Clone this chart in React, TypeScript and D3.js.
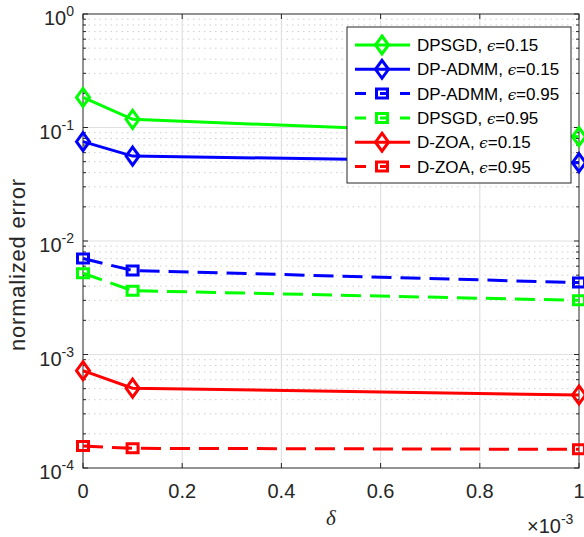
import React from "react";
import * as d3 from "d3";

const deltas = [0, 0.1, 1]; // ×10^-3
const seriesNames = [
  "DPSGD",
  "DP-ADMM",
  "DP-ADMM",
  "DPSGD",
  "D-ZOA",
  "D-ZOA",
];
const seriesEps = ["0.15", "0.15", "0.95", "0.95", "0.15", "0.95"];
const seriesColors = ["#00ff00", "#0000ff", "#0000ff", "#00ff00", "#ff0000", "#ff0000"];
const seriesDashed = [false, false, true, true, false, true];
const seriesMarker = ["diamond", "diamond", "square", "square", "diamond", "square"];
const dpsgd015 = [0.184, 0.118, 0.083];
const dpadmm015 = [0.075, 0.056, 0.049];
const dpadmm095 = [0.007, 0.0055, 0.0043];
const dpsgd095 = [0.0052, 0.00365, 0.003];
const dzoa015 = [0.00072, 0.000505, 0.00044];
const dzoa095 = [0.000156, 0.000149, 0.000146];
const seriesValues = [dpsgd015, dpadmm015, dpadmm095, dpsgd095, dzoa015, dzoa095];

const xTicks = [0, 0.2, 0.4, 0.6, 0.8, 1];
const xTickLabels = ["0", "0.2", "0.4", "0.6", "0.8", "1"];
const yTicks = [1e-4, 1e-3, 1e-2, 1e-1, 1];
const yTickExps = ["-4", "-3", "-2", "-1", "0"];

const W = 584;
const H = 537;
const L = 83;
const R = 579;
const T = 14;
const B = 468;
const AX = "#262626";

const x = d3.scaleLinear().domain([0, 1]).range([L, R]);
const y = d3.scaleLog().domain([1e-4, 1]).range([B, T]);

function markerPath(kind: string) {
  if (kind === "diamond") {
    return "M0,-9 L6.5,0 L0,9 L-6.5,0 Z";
  }
  return "M-5.5,-4.5 L5.5,-4.5 L5.5,4.5 L-5.5,4.5 Z";
}

export default function App() {
  const minor: number[] = [];
  for (let e = -4; e < 0; e++) {
    for (let k = 2; k <= 9; k++) minor.push(k * Math.pow(10, e));
  }
  const line = d3
    .line<number>()
    .x((_, i) => x(deltas[i]))
    .y((d) => y(d));

  const legX = 347;
  const legY = 27;
  const legW = 224;
  const legH = 156;
  const rowY = (i: number) => 45 + i * 24.3;

  return (
    <svg
      width={W}
      height={H}
      style={{ position: "absolute", left: 0, top: 0, background: "#fff" }}
      fontFamily="'Liberation Sans', Arial, Helvetica, sans-serif"
    >
      <rect x={0} y={0} width={W} height={H} fill="#fff" />
      {/* minor grid */}
      {minor.map((v, i) => (
        <line
          key={"mg" + i}
          x1={L}
          x2={R}
          y1={y(v)}
          y2={y(v)}
          stroke="#cfcfcf"
          strokeWidth={1}
          strokeDasharray="1.5 4"
        />
      ))}
      {/* major grid */}
      {yTicks.slice(1, -1).map((v, i) => (
        <line key={"yg" + i} x1={L} x2={R} y1={y(v)} y2={y(v)} stroke="#e0e0e0" strokeWidth={1.2} />
      ))}
      {xTicks.slice(1, -1).map((v, i) => (
        <line key={"xg" + i} x1={x(v)} x2={x(v)} y1={T} y2={B} stroke="#e0e0e0" strokeWidth={1.2} />
      ))}
      {/* axes box */}
      <rect x={L} y={T} width={R - L} height={B - T} fill="none" stroke={AX} strokeWidth={1} />
      {/* ticks */}
      {xTicks.map((v, i) => (
        <g key={"xt" + i}>
          <line x1={x(v)} x2={x(v)} y1={B} y2={B - 5} stroke={AX} />
          <line x1={x(v)} x2={x(v)} y1={T} y2={T + 5} stroke={AX} />
          <text x={x(v)} y={498} textAnchor="middle" fontSize={20} fill={AX}>
            {xTickLabels[i]}
          </text>
        </g>
      ))}
      {yTicks.map((v, i) => (
        <g key={"yt" + i}>
          <line x1={L} x2={L + 5} y1={y(v)} y2={y(v)} stroke={AX} />
          <line x1={R} x2={R - 5} y1={y(v)} y2={y(v)} stroke={AX} />
          <text x={74} y={y(v) + 11} textAnchor="end" fontSize={20} fill={AX}>
            10
            <tspan fontSize={14} dy={-9}>
              {yTickExps[i]}
            </tspan>
          </text>
        </g>
      ))}
      {minor.map((v, i) => (
        <g key={"ym" + i}>
          <line x1={L} x2={L + 3} y1={y(v)} y2={y(v)} stroke={AX} />
          <line x1={R} x2={R - 3} y1={y(v)} y2={y(v)} stroke={AX} />
        </g>
      ))}
      {/* series */}
      {seriesValues.map((vals, s) => (
        <g key={"s" + s}>
          <path
            d={line(vals) || ""}
            fill="none"
            stroke={seriesColors[s]}
            strokeWidth={3}
            strokeDasharray={seriesDashed[s] ? "20 9" : undefined}
          />
          {vals.map((v, i) => (
            <path
              key={i}
              d={markerPath(seriesMarker[s])}
              transform={`translate(${x(deltas[i])},${y(v)})`}
              fill="none"
              stroke={seriesColors[s]}
              strokeWidth={3}
            />
          ))}
        </g>
      ))}
      {/* axis labels */}
      <text
        transform={`translate(25,351) rotate(-90)`}
        textAnchor="start"
        fontSize={22}
        letterSpacing={0.8}
        fill={AX}
      >
        normalized error
      </text>
      <text x={331} y={525} textAnchor="middle" fontSize={21} fontStyle="italic" fontFamily="'Liberation Serif', serif" fill={AX}>
        δ
      </text>
      <text x={527} y={533} fontSize={20} fill={AX}>
        ×10
        <tspan fontSize={14} dy={-9}>
          -3
        </tspan>
      </text>
      {/* legend */}
      <rect x={legX} y={legY} width={legW} height={legH} fill="#fff" stroke={AX} strokeWidth={1} />
      {seriesNames.map((n, s) => (
        <g key={"lg" + s}>
          <line
            x1={355}
            x2={410}
            y1={rowY(s)}
            y2={rowY(s)}
            stroke={seriesColors[s]}
            strokeWidth={3}
            strokeDasharray={seriesDashed[s] ? "11 14 6 14 11" : undefined}
          />
          <path
            d={markerPath(seriesMarker[s])}
            transform={`translate(382,${rowY(s)})`}
            fill="none"
            stroke={seriesColors[s]}
            strokeWidth={3}
          />
          <text x={417} y={rowY(s) + 6} fontSize={17} fill="#000">
            {n + ", "}
            <tspan fontFamily="'DejaVu Serif', serif" fontStyle="italic" fontSize={15}>
              ϵ
            </tspan>
            {"=" + seriesEps[s]}
          </text>
        </g>
      ))}
    </svg>
  );
}
